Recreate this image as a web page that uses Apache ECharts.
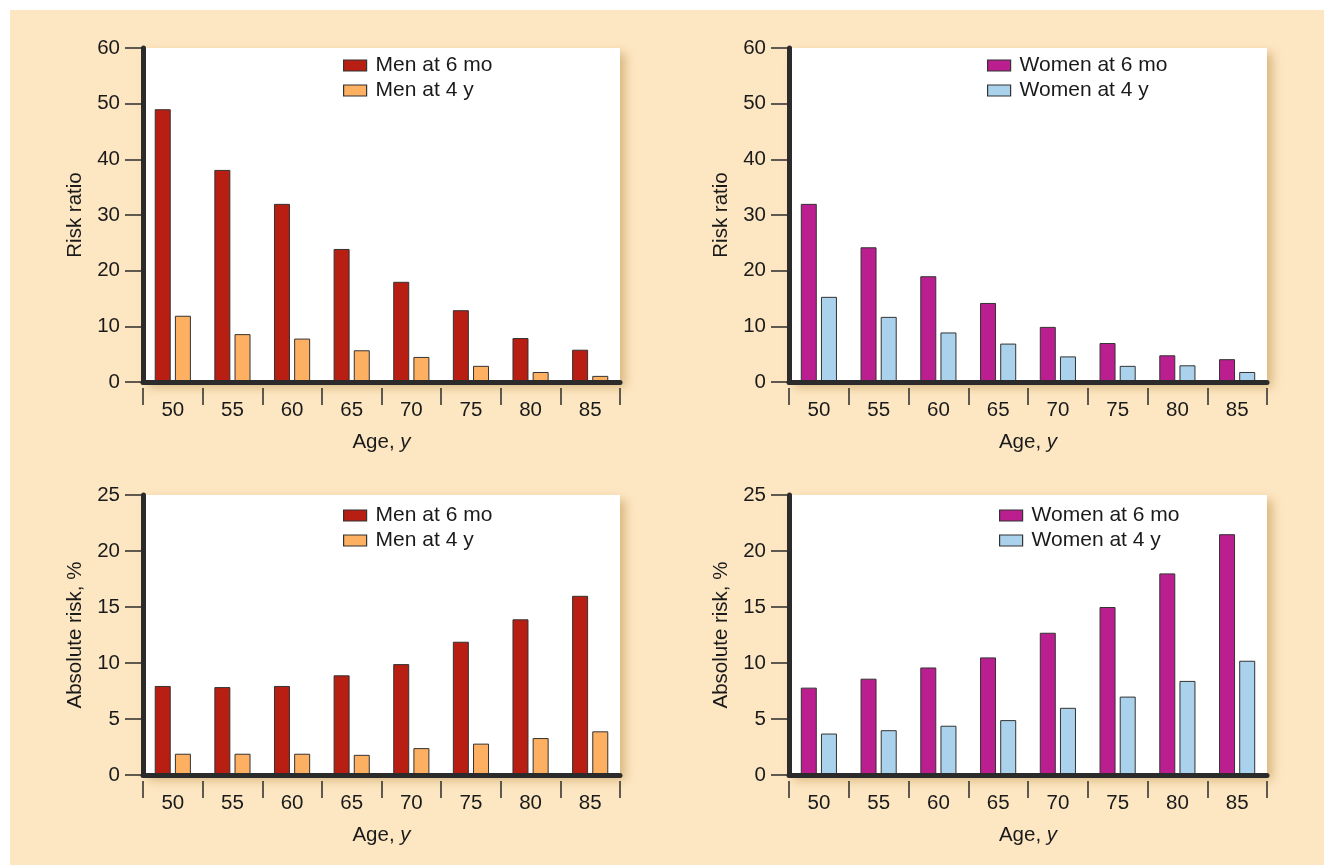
<!DOCTYPE html>
<html>
<head>
<meta charset="utf-8">
<script src="https://cdn.jsdelivr.net/npm/echarts@6/dist/echarts.min.js"></script>
<style>
  html, body { margin: 0; padding: 0; background: #ffffff; }
  #bg { position: absolute; left: 10px; top: 10px; width: 1314px; height: 855px; background: #FDE7C3; }
  #chart { position: absolute; left: 0; top: 0; width: 1324px; height: 865px; }
</style>
</head>
<body>
<div id="bg"></div>
<div id="chart"></div>
<script>
// ---- Data ----
var ages = ['50', '55', '60', '65', '70', '75', '80', '85'];
var menRR6mo   = [49, 38.1, 32, 23.9, 18, 12.9, 7.9, 5.8];
var menRR4y    = [11.9, 8.6, 7.8, 5.7, 4.5, 2.9, 1.8, 1.1];
var womenRR6mo = [32, 24.2, 19, 14.2, 9.9, 7.0, 4.8, 4.1];
var womenRR4y  = [15.3, 11.7, 8.9, 6.9, 4.6, 2.9, 3.0, 1.8];
var menAR6mo   = [7.95, 7.85, 7.95, 8.9, 9.9, 11.9, 13.9, 16.0];
var menAR4y    = [1.9, 1.9, 1.9, 1.8, 2.4, 2.8, 3.3, 3.9];
var womenAR6mo = [7.8, 8.6, 9.6, 10.5, 12.7, 15.0, 18.0, 21.5];
var womenAR4y  = [3.7, 4.0, 4.4, 4.9, 6.0, 7.0, 8.4, 10.2];
var rrTicks = { min: 0, max: 60, interval: 10 };
var arTicks = { min: 0, max: 25, interval: 5 };

// ---- Styles ----
var FONT = '"Liberation Sans", Arial, Helvetica, sans-serif';
var DARK = '#2b2b2b';
var TXT = '#1a1a1a';
var AX_FS = 20.5, LG_FS = 21;
var C_MEN6 = '#B81E12', C_MEN4 = '#FDAF62', C_WOM6 = '#BA1E8F', C_WOM4 = '#AAD2EC';

var panels = [
  { left: 143, top: 48,  width: 477, height: 334, yName: 'Risk ratio',       ticks: rrTicks, s: [['Men at 6 mo', menRR6mo, C_MEN6], ['Men at 4 y', menRR4y, C_MEN4]], legendLeft: 343, legendTop: 55 },
  { left: 789, top: 48,  width: 478, height: 334, yName: 'Risk ratio',       ticks: rrTicks, s: [['Women at 6 mo', womenRR6mo, C_WOM6], ['Women at 4 y', womenRR4y, C_WOM4]], legendLeft: 987, legendTop: 55 },
  { left: 143, top: 495, width: 477, height: 280, yName: 'Absolute risk, %', ticks: arTicks, s: [['Men at 6 mo', menAR6mo, C_MEN6], ['Men at 4 y', menAR4y, C_MEN4]], legendLeft: 343, legendTop: 505 },
  { left: 789, top: 495, width: 478, height: 280, yName: 'Absolute risk, %', ticks: arTicks, s: [['Women at 6 mo', womenAR6mo, C_WOM6], ['Women at 4 y', womenAR4y, C_WOM4]], legendLeft: 999, legendTop: 505 }
];

var option = { animation: false, grid: [], xAxis: [], yAxis: [], series: [], legend: [] };

panels.forEach(function (p, i) {
  option.grid.push({
    left: p.left, top: p.top, width: p.width, height: p.height,
    show: true, backgroundColor: '#ffffff', borderWidth: 0,
    shadowColor: 'rgba(170,120,40,0.45)', shadowBlur: 10, shadowOffsetX: 5, shadowOffsetY: 5
  });
  // main x axis: thick line only
  option.xAxis.push({
    type: 'category', gridIndex: i, data: ages,
    axisLine: { show: true, lineStyle: { color: DARK, width: 5 } },
    axisTick: { show: false }, axisLabel: { show: false }, splitLine: { show: false }, z: 5
  });
  // offset x axis: ticks, labels and name
  option.xAxis.push({
    type: 'category', gridIndex: i, data: ages, offset: 6, position: 'bottom',
    axisLine: { show: false },
    axisTick: { show: true, length: 17, lineStyle: { color: DARK, width: 1.5 } },
    axisLabel: { show: true, color: TXT, fontSize: AX_FS, fontFamily: FONT, margin: 12 },
    name: '{a|Age, }{b|y}', nameLocation: 'middle', nameGap: 44,
    nameTextStyle: { rich: {
      a: { fontSize: AX_FS, fontFamily: FONT, color: TXT },
      b: { fontSize: AX_FS, fontFamily: FONT, color: TXT, fontStyle: 'italic' } } }
  });
  option.yAxis.push({
    type: 'value', gridIndex: i, min: p.ticks.min, max: p.ticks.max, interval: p.ticks.interval,
    axisLine: { show: true, lineStyle: { color: DARK, width: 5 } },
    axisTick: { show: true, length: 18, lineStyle: { color: DARK, width: 1.5 } },
    axisLabel: { color: TXT, fontSize: AX_FS, fontFamily: FONT, margin: 23 },
    splitLine: { show: false },
    name: p.yName, nameLocation: 'middle', nameGap: 57, nameRotate: 90,
    nameTextStyle: { fontSize: AX_FS, fontFamily: FONT, color: TXT }, z: 5
  });
  p.s.forEach(function (s) {
    option.series.push({
      type: 'bar', name: s[0], data: s[1], xAxisIndex: 2 * i, yAxisIndex: i,
      barWidth: 16, barGap: '26%',
      itemStyle: { color: s[2], borderColor: '#333333', borderWidth: 1 }
    });
  });
  option.legend.push({
    data: p.s.map(function (s) { return s[0]; }),
    orient: 'vertical', left: p.legendLeft, top: p.legendTop, padding: 0,
    itemWidth: 23, itemHeight: 11, itemGap: 4, icon: 'rect',
    itemStyle: { borderColor: '#333333', borderWidth: 1.2 },
    textStyle: { fontSize: LG_FS, fontFamily: FONT, color: TXT, padding: [0, 0, 0, 4] },
    selectedMode: false
  });
});

var chart = echarts.init(document.getElementById('chart'), null, { renderer: 'canvas' });
chart.setOption(option);
</script>
</body>
</html>
